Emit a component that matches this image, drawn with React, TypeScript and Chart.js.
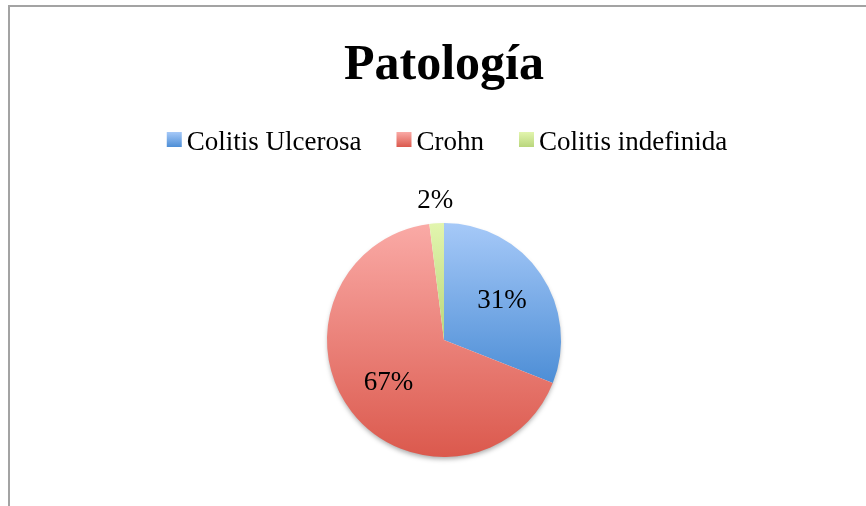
import React, { useEffect, useRef } from "react";
import { Chart, registerables } from "chart.js";

Chart.register(...registerables);

const titleText = "Patología";
const categories = ["Colitis Ulcerosa", "Crohn", "Colitis indefinida"];
const values = [31, 67, 2];
const topColors = ["#a6c9f8", "#faaaa6", "#e2f5ae"];
const bottomColors = ["#4d8ed6", "#db594d", "#b9d67c"];

const W = 866;
const H = 506;
const FONT = "'Liberation Serif', 'Times New Roman', serif";

function arcExtents(el: any) {
  const { x, y, startAngle, endAngle, outerRadius } = el.getProps(
    ["x", "y", "startAngle", "endAngle", "outerRadius"],
    true
  );
  const ys = [y, y + Math.sin(startAngle) * outerRadius, y + Math.sin(endAngle) * outerRadius];
  const within = (a: number) => {
    let s = startAngle;
    let e = endAngle;
    const twoPi = Math.PI * 2;
    while (a < s) a += twoPi;
    return a <= e;
  };
  if (within(Math.PI / 2)) ys.push(y + outerRadius);
  if (within(-Math.PI / 2)) ys.push(y - outerRadius);
  return { top: Math.min(...ys), bottom: Math.max(...ys) };
}

const piePlugin = {
  id: "pieDecor",
  beforeDatasetsDraw(chart: any) {
    const ctx = chart.ctx;
    const meta = chart.getDatasetMeta(0);
    const first = meta.data[0];
    if (!first) return;
    const { x, y, outerRadius } = first.getProps(["x", "y", "outerRadius"], true);
    ctx.save();
    ctx.shadowColor = "rgba(0,0,0,0.35)";
    ctx.shadowBlur = 5;
    ctx.shadowOffsetY = 3;
    ctx.fillStyle = "#ffffff";
    ctx.beginPath();
    ctx.arc(x, y, outerRadius - 1, 0, Math.PI * 2);
    ctx.fill();
    ctx.restore();
    meta.data.forEach((el: any, i: number) => {
      const ext = arcExtents(el);
      const g = ctx.createLinearGradient(0, ext.top, 0, ext.bottom);
      g.addColorStop(0, topColors[i]);
      g.addColorStop(1, bottomColors[i]);
      el.options.backgroundColor = g;
      el.options.borderWidth = 0;
    });
  },
  afterDraw(chart: any) {
    const ctx = chart.ctx;
    const meta = chart.getDatasetMeta(0);
    const total = values.reduce((a, b) => a + b, 0);
    ctx.save();
    // data labels
    ctx.fillStyle = "#000000";
    ctx.font = `27px ${FONT}`;
    ctx.textAlign = "center";
    ctx.textBaseline = "middle";
    meta.data.forEach((el: any, i: number) => {
      const { x, y, startAngle, endAngle, outerRadius } = el.getProps(
        ["x", "y", "startAngle", "endAngle", "outerRadius"],
        true
      );
      const mid = (startAngle + endAngle) / 2;
      const frac = values[i] / total;
      const r = frac < 0.05 ? outerRadius + 22 : outerRadius * 0.6;
      const txt = Math.round(frac * 100) + "%";
      ctx.fillText(txt, x + Math.cos(mid) * r, y + Math.sin(mid) * r);
    });
    // title
    ctx.font = `bold 50px ${FONT}`;
    ctx.textBaseline = "alphabetic";
    ctx.fillText(titleText, 444, 79);
    // legend
    ctx.font = `27px ${FONT}`;
    const box = 15;
    const gapText = 5;
    const gapItem = 35;
    const widths = categories.map((c) => ctx.measureText(c).width);
    const totalW =
      widths.reduce((a, b) => a + b, 0) + categories.length * (box + gapText) + gapItem * (categories.length - 1);
    let lx = 447 - totalW / 2;
    const baseY = 150;
    ctx.textAlign = "left";
    categories.forEach((c, i) => {
      const g = ctx.createLinearGradient(0, baseY - 18, 0, baseY - 3);
      g.addColorStop(0, topColors[i]);
      g.addColorStop(1, bottomColors[i]);
      ctx.fillStyle = g;
      ctx.fillRect(lx, baseY - 18, box, box);
      lx += box + gapText;
      ctx.fillStyle = "#000000";
      ctx.fillText(c, lx, baseY);
      lx += widths[i] + gapItem;
    });
    ctx.restore();
  },
};

export default function App() {
  const ref = useRef<HTMLCanvasElement | null>(null);
  useEffect(() => {
    if (!ref.current) return;
    const chart = new Chart(ref.current, {
      type: "pie",
      data: {
        labels: categories,
        datasets: [
          {
            data: values,
            backgroundColor: topColors,
            borderWidth: 0,
          },
        ],
      },
      options: {
        responsive: false,
        animation: false,
        layout: { padding: { top: 223, bottom: 49, left: 327, right: 305 } },
        plugins: {
          legend: { display: false },
          title: { display: false },
          tooltip: { enabled: false },
        },
      },
      plugins: [piePlugin],
    });
    return () => chart.destroy();
  }, []);
  return (
    <div
      style={{
        position: "fixed",
        left: 0,
        top: 0,
        width: W,
        height: H,
        overflow: "hidden",
        background: "#ffffff",
      }}
    >
      <div
        style={{
          position: "absolute",
          left: 8,
          top: 5,
          width: 1000,
          height: 1000,
          borderTop: "2px solid #a3a3a3",
          borderLeft: "2px solid #a3a3a3",
        }}
      />
      <canvas
        ref={ref}
        width={W}
        height={H}
        style={{ position: "absolute", left: 0, top: 0, width: W, height: H }}
      />
    </div>
  );
}
